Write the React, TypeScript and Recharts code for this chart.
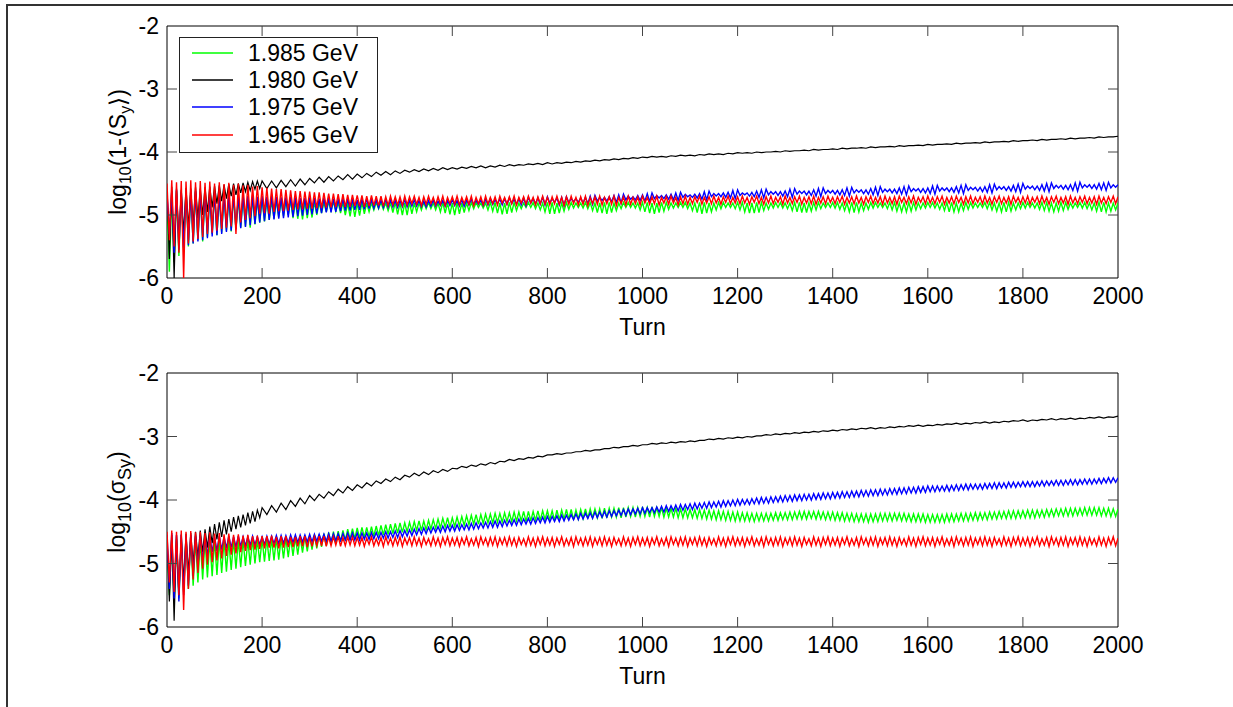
import React from 'react';
import { LineChart, Line, XAxis, YAxis, ReferenceArea } from 'recharts';

const FONT = 'Arial, "Liberation Sans", Helvetica, sans-serif';

// sample turns for the coloured traces (every 5 turns)
const TURNS_FINE = [
  0, 5, 10, 15, 20, 25, 30, 35, 40, 45, 50, 55, 60, 65, 70, 75, 80, 85, 90, 95,
  100, 105, 110, 115, 120, 125, 130, 135, 140, 145, 150, 155, 160, 165, 170, 175, 180, 185, 190, 195,
  200, 205, 210, 215, 220, 225, 230, 235, 240, 245, 250, 255, 260, 265, 270, 275, 280, 285, 290, 295,
  300, 305, 310, 315, 320, 325, 330, 335, 340, 345, 350, 355, 360, 365, 370, 375, 380, 385, 390, 395,
  400, 405, 410, 415, 420, 425, 430, 435, 440, 445, 450, 455, 460, 465, 470, 475, 480, 485, 490, 495,
  500, 505, 510, 515, 520, 525, 530, 535, 540, 545, 550, 555, 560, 565, 570, 575, 580, 585, 590, 595,
  600, 605, 610, 615, 620, 625, 630, 635, 640, 645, 650, 655, 660, 665, 670, 675, 680, 685, 690, 695,
  700, 705, 710, 715, 720, 725, 730, 735, 740, 745, 750, 755, 760, 765, 770, 775, 780, 785, 790, 795,
  800, 805, 810, 815, 820, 825, 830, 835, 840, 845, 850, 855, 860, 865, 870, 875, 880, 885, 890, 895,
  900, 905, 910, 915, 920, 925, 930, 935, 940, 945, 950, 955, 960, 965, 970, 975, 980, 985, 990, 995,
  1000, 1005, 1010, 1015, 1020, 1025, 1030, 1035, 1040, 1045, 1050, 1055, 1060, 1065, 1070, 1075, 1080, 1085, 1090, 1095,
  1100, 1105, 1110, 1115, 1120, 1125, 1130, 1135, 1140, 1145, 1150, 1155, 1160, 1165, 1170, 1175, 1180, 1185, 1190, 1195,
  1200, 1205, 1210, 1215, 1220, 1225, 1230, 1235, 1240, 1245, 1250, 1255, 1260, 1265, 1270, 1275, 1280, 1285, 1290, 1295,
  1300, 1305, 1310, 1315, 1320, 1325, 1330, 1335, 1340, 1345, 1350, 1355, 1360, 1365, 1370, 1375, 1380, 1385, 1390, 1395,
  1400, 1405, 1410, 1415, 1420, 1425, 1430, 1435, 1440, 1445, 1450, 1455, 1460, 1465, 1470, 1475, 1480, 1485, 1490, 1495,
  1500, 1505, 1510, 1515, 1520, 1525, 1530, 1535, 1540, 1545, 1550, 1555, 1560, 1565, 1570, 1575, 1580, 1585, 1590, 1595,
  1600, 1605, 1610, 1615, 1620, 1625, 1630, 1635, 1640, 1645, 1650, 1655, 1660, 1665, 1670, 1675, 1680, 1685, 1690, 1695,
  1700, 1705, 1710, 1715, 1720, 1725, 1730, 1735, 1740, 1745, 1750, 1755, 1760, 1765, 1770, 1775, 1780, 1785, 1790, 1795,
  1800, 1805, 1810, 1815, 1820, 1825, 1830, 1835, 1840, 1845, 1850, 1855, 1860, 1865, 1870, 1875, 1880, 1885, 1890, 1895,
  1900, 1905, 1910, 1915, 1920, 1925, 1930, 1935, 1940, 1945, 1950, 1955, 1960, 1965, 1970, 1975, 1980, 1985, 1990, 1995,
  2000,
];

// sample turns for the black traces (thin band, coarser after turn 200)
const TURNS_COARSE = [
  0, 5, 10, 15, 20, 25, 30, 35, 40, 45, 50, 55, 60, 65, 70, 75, 80, 85, 90, 95,
  100, 105, 110, 115, 120, 125, 130, 135, 140, 145, 150, 155, 160, 165, 170, 175, 180, 185, 190, 195,
  200, 210, 220, 230, 240, 250, 260, 270, 280, 290, 300,
  310, 320, 330, 340, 350, 360, 370, 380, 390, 400,
  410, 420, 430, 440, 450, 460, 470, 480, 490, 500,
  510, 520, 530, 540, 550, 560, 570, 580, 590, 600,
  610, 620, 630, 640, 650, 660, 670, 680, 690, 700,
  710, 720, 730, 740, 750, 760, 770, 780, 790, 800,
  810, 820, 830, 840, 850, 860, 870, 880, 890, 900,
  910, 920, 930, 940, 950, 960, 970, 980, 990, 1000,
  1010, 1020, 1030, 1040, 1050, 1060, 1070, 1080, 1090, 1100,
  1110, 1120, 1130, 1140, 1150, 1160, 1170, 1180, 1190, 1200,
  1210, 1220, 1230, 1240, 1250, 1260, 1270, 1280, 1290, 1300,
  1310, 1320, 1330, 1340, 1350, 1360, 1370, 1380, 1390, 1400,
  1410, 1420, 1430, 1440, 1450, 1460, 1470, 1480, 1490, 1500,
  1510, 1520, 1530, 1540, 1550, 1560, 1570, 1580, 1590, 1600,
  1610, 1620, 1630, 1640, 1650, 1660, 1670, 1680, 1690, 1700,
  1710, 1720, 1730, 1740, 1750, 1760, 1770, 1780, 1790, 1800,
  1810, 1820, 1830, 1840, 1850, 1860, 1870, 1880, 1890, 1900,
  1910, 1920, 1930, 1940, 1950, 1960, 1970, 1980, 1990, 2000,
];

const X_TICKS = [0, 200, 400, 600, 800, 1000, 1200, 1400, 1600, 1800, 2000];
const Y_TICKS = [-6, -5, -4, -3, -2];

// ---- upper panel: log10(1-<Sy>) ----
const TOP_GREEN = [
  -4.70, -5.90, -4.65, -5.75, -4.62, -5.65, -4.68, -5.55, -4.63, -5.50,
  -4.66, -5.45, -4.64, -5.40, -4.67, -5.42, -4.65, -5.35, -4.68, -5.30,
  -4.66, -5.32, -4.70, -5.28, -4.68, -5.25, -4.72, -5.26, -4.70, -5.22,
  -4.73, -5.20, -4.72, -5.18, -4.74, -5.20, -4.73, -5.15, -4.76, -5.12,
  -4.75,
  -5.10, -4.76, -5.08, -4.77, -5.06, -4.77, -5.04, -4.78, -5.02, -4.78,
  -5.00, -4.77, -5.05, -4.78, -5.06, -4.79, -5.07, -4.79, -5.05, -4.80,
  -5.04, -4.79, -5.00, -4.80, -4.97, -4.80, -4.95, -4.79, -4.93, -4.79,
  -4.94, -4.80, -4.97, -4.80, -5.00, -4.81, -5.02, -4.80, -5.03, -4.81,
  -5.01, -4.80, -4.98, -4.81, -4.95, -4.81, -4.92, -4.80, -4.90, -4.80,
  -4.91, -4.81, -4.93, -4.81, -4.96, -4.80, -4.99, -4.81, -5.00, -4.81,
  -5.00, -4.80, -4.98, -4.81, -4.95, -4.81, -4.92, -4.80, -4.90, -4.80,
  -4.90, -4.81, -4.92, -4.81, -4.95, -4.80, -4.97, -4.81, -4.99, -4.81,
  -5.00, -4.80, -4.98, -4.81, -4.96, -4.81, -4.93, -4.80, -4.90, -4.80,
  -4.88, -4.81, -4.89, -4.81, -4.92, -4.80, -4.94, -4.80, -4.97, -4.81,
  -4.99, -4.81, -4.98, -4.80, -4.96, -4.80, -4.93, -4.81, -4.90, -4.81,
  -4.88, -4.80, -4.88, -4.80, -4.90, -4.81, -4.92, -4.81, -4.95, -4.80,
  -4.98, -4.80, -4.98, -4.81, -4.97, -4.81, -4.94, -4.80, -4.91, -4.80,
  -4.89, -4.81, -4.88, -4.81, -4.89, -4.80, -4.90, -4.80, -4.93, -4.81,
  -4.96, -4.81, -4.97, -4.80, -4.98, -4.80, -4.96, -4.81, -4.93, -4.81,
  -4.90, -4.80, -4.88, -4.80, -4.88, -4.81, -4.89, -4.81, -4.92, -4.80,
  -4.95, -4.80, -4.97, -4.81, -4.98, -4.81, -4.96, -4.80, -4.94, -4.80,
  -4.91, -4.81, -4.89, -4.81, -4.88, -4.80, -4.88, -4.80, -4.90, -4.81,
  -4.93, -4.81, -4.96, -4.80, -4.98, -4.80, -4.97, -4.81, -4.95, -4.81,
  -4.92, -4.80, -4.90, -4.80, -4.88, -4.81, -4.88, -4.81, -4.90, -4.80,
  -4.92, -4.80, -4.95, -4.81, -4.97, -4.81, -4.97, -4.80, -4.96, -4.80,
  -4.93, -4.81, -4.91, -4.81, -4.89, -4.80, -4.88, -4.80, -4.89, -4.81,
  -4.90, -4.81, -4.93, -4.80, -4.95, -4.80, -4.96, -4.81, -4.96, -4.81,
  -4.94, -4.80, -4.92, -4.80, -4.90, -4.81, -4.88, -4.81, -4.88, -4.80,
  -4.89, -4.80, -4.91, -4.81, -4.93, -4.81, -4.95, -4.80, -4.96, -4.80,
  -4.95, -4.81, -4.93, -4.81, -4.91, -4.80, -4.89, -4.80, -4.88, -4.81,
  -4.88, -4.81, -4.90, -4.80, -4.92, -4.80, -4.94, -4.81, -4.95, -4.81,
  -4.95, -4.80, -4.94, -4.80, -4.92, -4.81, -4.90, -4.81, -4.89, -4.80,
  -4.88, -4.80, -4.89, -4.81, -4.91, -4.81, -4.93, -4.80, -4.95, -4.80,
  -4.95, -4.81, -4.95, -4.81, -4.93, -4.80, -4.91, -4.80, -4.89, -4.81,
  -4.88, -4.81, -4.88, -4.80, -4.90, -4.80, -4.92, -4.81, -4.94, -4.81,
  -4.95, -4.80, -4.95, -4.80, -4.94, -4.81, -4.92, -4.81, -4.90, -4.80,
  -4.89, -4.80, -4.88, -4.81, -4.89, -4.81, -4.91, -4.80, -4.93, -4.80,
  -4.94, -4.81, -4.95, -4.81, -4.94, -4.80, -4.93, -4.80, -4.91, -4.81,
  -4.89, -4.81, -4.88, -4.80, -4.89, -4.80, -4.90, -4.81, -4.92, -4.81,
  -4.94, -4.80, -4.95, -4.80, -4.95, -4.81, -4.94, -4.81, -4.92, -4.81,
];

const TOP_BLACK = [
  -4.60, -5.70, -4.55, -6.00, -4.58, -5.40, -4.60, -5.30, -4.57, -5.20,
  -4.58, -5.15, -4.56, -5.05, -4.58, -5.00, -4.56, -4.95, -4.55, -4.88,
  -4.54, -4.82, -4.53, -4.78, -4.52, -4.74, -4.51, -4.70, -4.50, -4.68,
  -4.50, -4.65, -4.49, -4.63, -4.48, -4.61, -4.47, -4.59, -4.46, -4.58,
  -4.46,
  -4.58, -4.46, -4.57, -4.45, -4.55, -4.44, -4.54, -4.43, -4.52, -4.42,
  -4.49, -4.40, -4.48, -4.39, -4.46, -4.38, -4.44, -4.36, -4.43, -4.35,
  -4.41, -4.34, -4.39, -4.32, -4.37, -4.31, -4.36, -4.30, -4.34, -4.29,
  -4.32, -4.28, -4.31, -4.27, -4.30, -4.26, -4.29, -4.25, -4.28, -4.25,
  -4.27, -4.24, -4.26, -4.23, -4.25, -4.22, -4.25, -4.22, -4.24, -4.21,
  -4.23, -4.20, -4.22, -4.20, -4.21, -4.19, -4.20, -4.18, -4.20, -4.17,
  -4.19, -4.17, -4.18, -4.16, -4.17, -4.15, -4.16, -4.14, -4.15, -4.13,
  -4.14, -4.12, -4.13, -4.11, -4.12, -4.10, -4.11, -4.09, -4.10, -4.08,
  -4.09, -4.07, -4.08, -4.07, -4.08, -4.06, -4.07, -4.05, -4.06, -4.05,
  -4.06, -4.04, -4.05, -4.03, -4.04, -4.03, -4.04, -4.02, -4.03, -4.01,
  -4.02, -4.01, -4.02, -4.00, -4.01, -4.00, -4.00, -3.99, -4.00, -3.98,
  -3.99, -3.98, -3.98, -3.97, -3.98, -3.96, -3.97, -3.96, -3.96, -3.95,
  -3.96, -3.94, -3.95, -3.94, -3.94, -3.93, -3.94, -3.92, -3.93, -3.92,
  -3.92, -3.91, -3.92, -3.90, -3.91, -3.90, -3.90, -3.89, -3.90, -3.88,
  -3.89, -3.88, -3.88, -3.87, -3.88, -3.86, -3.87, -3.86, -3.86, -3.85,
  -3.86, -3.84, -3.85, -3.84, -3.84, -3.83, -3.84, -3.82, -3.83, -3.82,
  -3.82, -3.81, -3.82, -3.80, -3.81, -3.80, -3.80, -3.79, -3.80, -3.78,
  -3.79, -3.78, -3.78, -3.77, -3.78, -3.76, -3.77, -3.76, -3.76, -3.75,
];

const TOP_BLUE = [
  -4.65, -5.30, -4.62, -5.60, -4.60, -5.55, -4.63, -5.52, -4.61, -5.48,
  -4.64, -5.45, -4.62, -5.42, -4.65, -5.40, -4.63, -5.37, -4.66, -5.34,
  -4.64, -5.32, -4.67, -5.30, -4.66, -5.27, -4.68, -5.25, -4.67, -5.23,
  -4.69, -5.21, -4.68, -5.19, -4.70, -5.16, -4.69, -5.14, -4.71, -5.12,
  -4.70,
  -5.10, -4.71, -5.08, -4.70, -5.07, -4.71, -5.06, -4.72, -5.05, -4.72,
  -5.04, -4.71, -5.03, -4.72, -5.02, -4.73, -5.01, -4.73, -5.00, -4.72,
  -4.99, -4.73, -4.98, -4.74, -4.97, -4.73, -4.96, -4.73, -4.96, -4.74,
  -4.95, -4.75, -4.94, -4.74, -4.93, -4.74, -4.93, -4.75, -4.92, -4.76,
  -4.92, -4.75, -4.91, -4.74, -4.90, -4.75, -4.89, -4.76, -4.89, -4.76,
  -4.88, -4.75, -4.88, -4.76, -4.87, -4.77, -4.88, -4.77, -4.87, -4.76,
  -4.87, -4.77, -4.86, -4.76, -4.86, -4.77, -4.87, -4.78, -4.87, -4.77,
  -4.86, -4.76, -4.86, -4.78, -4.85, -4.77, -4.86, -4.77, -4.85, -4.76,
  -4.85, -4.77, -4.86, -4.76, -4.86, -4.76, -4.84, -4.75, -4.84, -4.77,
  -4.83, -4.76, -4.85, -4.75, -4.84, -4.74, -4.83, -4.76, -4.82, -4.75,
  -4.84, -4.74, -4.83, -4.73, -4.82, -4.75, -4.83, -4.74, -4.84, -4.73,
  -4.85, -4.72, -4.81, -4.74, -4.82, -4.73, -4.83, -4.72, -4.84, -4.71,
  -4.81, -4.74, -4.80, -4.73, -4.84, -4.72, -4.85, -4.71, -4.80, -4.74,
  -4.79, -4.74, -4.80, -4.73, -4.81, -4.72, -4.82, -4.70, -4.83, -4.69,
  -4.78, -4.72, -4.77, -4.72, -4.78, -4.71, -4.79, -4.69, -4.80, -4.68,
  -4.81, -4.67, -4.76, -4.70, -4.75, -4.71, -4.76, -4.69, -4.77, -4.68,
  -4.78, -4.66, -4.79, -4.65, -4.74, -4.69, -4.73, -4.69, -4.74, -4.68,
  -4.75, -4.67, -4.76, -4.65, -4.77, -4.64, -4.72, -4.67, -4.71, -4.68,
  -4.72, -4.67, -4.73, -4.66, -4.75, -4.63, -4.76, -4.62, -4.71, -4.66,
  -4.70, -4.66, -4.71, -4.65, -4.72, -4.64, -4.73, -4.61, -4.74, -4.60,
  -4.69, -4.65, -4.68, -4.65, -4.70, -4.64, -4.71, -4.62, -4.72, -4.60,
  -4.73, -4.59, -4.68, -4.63, -4.67, -4.63, -4.69, -4.63, -4.70, -4.62,
  -4.71, -4.59, -4.72, -4.58, -4.67, -4.62, -4.66, -4.62, -4.68, -4.62,
  -4.69, -4.60, -4.70, -4.58, -4.71, -4.57, -4.66, -4.61, -4.65, -4.61,
  -4.67, -4.61, -4.68, -4.60, -4.69, -4.57, -4.70, -4.56, -4.65, -4.60,
  -4.64, -4.60, -4.66, -4.60, -4.67, -4.58, -4.68, -4.56, -4.69, -4.55,
  -4.64, -4.59, -4.63, -4.59, -4.65, -4.59, -4.66, -4.57, -4.67, -4.55,
  -4.68, -4.54, -4.63, -4.58, -4.62, -4.58, -4.64, -4.58, -4.65, -4.57,
  -4.66, -4.54, -4.67, -4.53, -4.62, -4.57, -4.61, -4.57, -4.63, -4.57,
  -4.64, -4.55, -4.65, -4.53, -4.66, -4.52, -4.61, -4.56, -4.60, -4.56,
  -4.62, -4.56, -4.63, -4.55, -4.64, -4.52, -4.65, -4.51, -4.60, -4.55,
  -4.59, -4.55, -4.61, -4.55, -4.62, -4.53, -4.63, -4.51, -4.64, -4.50,
  -4.59, -4.54, -4.58, -4.54, -4.60, -4.54, -4.61, -4.52, -4.62, -4.50,
  -4.63, -4.49, -4.58, -4.53, -4.57, -4.53, -4.59, -4.53, -4.60, -4.52,
  -4.61, -4.49, -4.62, -4.48, -4.57, -4.52, -4.56, -4.52, -4.58, -4.52,
  -4.59, -4.50, -4.60, -4.49, -4.61, -4.48, -4.57, -4.52, -4.56, -4.52,
];

const TOP_RED = [
  -4.50, -5.40, -4.45, -5.50, -4.48, -5.60, -4.46, -6.00, -4.47, -5.45,
  -4.45, -5.42, -4.48, -5.38, -4.46, -5.35, -4.49, -5.30, -4.47, -5.28,
  -4.50, -5.25, -4.48, -5.22, -4.51, -5.20, -4.49, -5.18, -4.52, -5.30,
  -4.50, -5.12, -4.53, -5.08, -4.52, -5.05, -4.55, -5.02, -4.54, -4.98,
  -4.56,
  -4.97, -4.57, -4.98, -4.58, -4.95, -4.59, -4.94, -4.59, -4.94, -4.60,
  -4.93, -4.61, -4.92, -4.62, -4.91, -4.62, -4.91, -4.63, -4.90, -4.63,
  -4.90, -4.64, -4.89, -4.64, -4.89, -4.65, -4.88, -4.66, -4.88, -4.66,
  -4.87, -4.67, -4.88, -4.67, -4.87, -4.68, -4.87, -4.68, -4.86, -4.69,
  -4.86, -4.69, -4.87, -4.70, -4.86, -4.69, -4.85, -4.70, -4.85, -4.70,
  -4.86, -4.71, -4.85, -4.70, -4.84, -4.71, -4.84, -4.71, -4.85, -4.70,
  -4.84, -4.71, -4.82, -4.70, -4.83, -4.72, -4.85, -4.71, -4.83, -4.70,
  -4.82, -4.72, -4.84, -4.71, -4.83, -4.70, -4.85, -4.72, -4.82, -4.71,
  -4.83, -4.70, -4.84, -4.72, -4.82, -4.71, -4.83, -4.70, -4.85, -4.72,
  -4.82, -4.71, -4.84, -4.70, -4.83, -4.72, -4.82, -4.71, -4.84, -4.70,
  -4.81, -4.72, -4.83, -4.71, -4.82, -4.70, -4.84, -4.72, -4.81, -4.71,
  -4.83, -4.70, -4.81, -4.72, -4.84, -4.71, -4.82, -4.70, -4.83, -4.72,
  -4.84, -4.71, -4.82, -4.70, -4.83, -4.72, -4.85, -4.71, -4.83, -4.70,
  -4.82, -4.72, -4.84, -4.71, -4.83, -4.70, -4.85, -4.72, -4.82, -4.71,
  -4.83, -4.70, -4.84, -4.72, -4.82, -4.71, -4.83, -4.70, -4.85, -4.72,
  -4.82, -4.71, -4.84, -4.70, -4.83, -4.72, -4.82, -4.71, -4.84, -4.70,
  -4.81, -4.72, -4.83, -4.71, -4.82, -4.70, -4.84, -4.72, -4.81, -4.71,
  -4.83, -4.70, -4.81, -4.72, -4.84, -4.71, -4.82, -4.70, -4.83, -4.72,
  -4.82, -4.71, -4.80, -4.70, -4.83, -4.72, -4.81, -4.71, -4.82, -4.70,
  -4.81, -4.72, -4.83, -4.71, -4.80, -4.70, -4.82, -4.72, -4.81, -4.71,
  -4.82, -4.70, -4.81, -4.72, -4.83, -4.71, -4.80, -4.70, -4.82, -4.72,
  -4.83, -4.71, -4.81, -4.70, -4.82, -4.72, -4.80, -4.71, -4.83, -4.70,
  -4.81, -4.72, -4.82, -4.71, -4.80, -4.70, -4.83, -4.72, -4.81, -4.71,
  -4.82, -4.70, -4.83, -4.72, -4.81, -4.71, -4.82, -4.70, -4.80, -4.72,
  -4.82, -4.71, -4.80, -4.70, -4.83, -4.72, -4.81, -4.71, -4.82, -4.70,
  -4.81, -4.72, -4.83, -4.71, -4.80, -4.70, -4.82, -4.72, -4.81, -4.71,
  -4.83, -4.70, -4.81, -4.72, -4.82, -4.71, -4.83, -4.70, -4.80, -4.72,
  -4.82, -4.71, -4.81, -4.70, -4.83, -4.72, -4.80, -4.71, -4.82, -4.70,
  -4.81, -4.72, -4.82, -4.71, -4.80, -4.70, -4.83, -4.72, -4.81, -4.71,
  -4.82, -4.70, -4.80, -4.72, -4.83, -4.71, -4.81, -4.70, -4.82, -4.72,
  -4.80, -4.71, -4.82, -4.70, -4.81, -4.72, -4.83, -4.71, -4.80, -4.70,
  -4.82, -4.72, -4.81, -4.71, -4.83, -4.70, -4.80, -4.72, -4.82, -4.71,
  -4.81, -4.70, -4.83, -4.72, -4.80, -4.71, -4.82, -4.70, -4.81, -4.72,
  -4.83, -4.71, -4.80, -4.70, -4.82, -4.72, -4.81, -4.71, -4.83, -4.70,
  -4.81, -4.72, -4.82, -4.71, -4.80, -4.70, -4.82, -4.72, -4.81, -4.71,
  -4.83, -4.70, -4.81, -4.72, -4.82, -4.71, -4.80, -4.70, -4.82, -4.71,
];

// ---- lower panel: log10(sigma_Sy) ----
const BOT_GREEN = [
  -4.65, -5.50, -4.60, -5.60, -4.62, -5.55, -4.63, -5.45, -4.60, -5.40,
  -4.62, -5.35, -4.61, -5.30, -4.63, -5.25, -4.62, -5.22, -4.64, -5.20,
  -4.62, -5.18, -4.63, -5.15, -4.62, -5.13, -4.64, -5.10, -4.62, -5.08,
  -4.63, -5.06, -4.62, -5.04, -4.63, -5.02, -4.61, -5.00, -4.62, -4.98,
  -4.61,
  -4.97, -4.61, -4.96, -4.61, -4.95, -4.60, -4.94, -4.60, -4.92, -4.60,
  -4.90, -4.59, -4.88, -4.59, -4.86, -4.58, -4.83, -4.57, -4.81, -4.56,
  -4.78, -4.55, -4.76, -4.54, -4.74, -4.53, -4.72, -4.51, -4.70, -4.50,
  -4.68, -4.49, -4.66, -4.48, -4.64, -4.46, -4.62, -4.45, -4.61, -4.44,
  -4.60, -4.43, -4.59, -4.43, -4.58, -4.42, -4.57, -4.41, -4.56, -4.40,
  -4.55, -4.39, -4.54, -4.38, -4.53, -4.37, -4.52, -4.36, -4.51, -4.36,
  -4.50, -4.35, -4.49, -4.34, -4.48, -4.33, -4.48, -4.33, -4.47, -4.32,
  -4.46, -4.31, -4.45, -4.30, -4.44, -4.29, -4.43, -4.28, -4.43, -4.28,
  -4.42, -4.27, -4.41, -4.26, -4.40, -4.25, -4.39, -4.24, -4.38, -4.23,
  -4.38, -4.23, -4.37, -4.22, -4.36, -4.22, -4.36, -4.21, -4.35, -4.21,
  -4.35, -4.20, -4.34, -4.20, -4.34, -4.19, -4.33, -4.19, -4.33, -4.18,
  -4.34, -4.18, -4.33, -4.18, -4.32, -4.17, -4.32, -4.17, -4.31, -4.17,
  -4.31, -4.17, -4.32, -4.16, -4.31, -4.16, -4.30, -4.15, -4.30, -4.15,
  -4.31, -4.16, -4.30, -4.15, -4.29, -4.14, -4.29, -4.14, -4.28, -4.14,
  -4.28, -4.14, -4.29, -4.13, -4.28, -4.13, -4.27, -4.13, -4.27, -4.12,
  -4.28, -4.12, -4.27, -4.12, -4.26, -4.12, -4.27, -4.12, -4.26, -4.11,
  -4.26, -4.12, -4.27, -4.11, -4.26, -4.12, -4.26, -4.12, -4.27, -4.13,
  -4.27, -4.13, -4.27, -4.13, -4.28, -4.14, -4.28, -4.14, -4.28, -4.15,
  -4.28, -4.15, -4.29, -4.15, -4.29, -4.16, -4.30, -4.16, -4.30, -4.17,
  -4.31, -4.17, -4.31, -4.18, -4.32, -4.18, -4.32, -4.19, -4.33, -4.19,
  -4.33, -4.20, -4.33, -4.20, -4.33, -4.21, -4.34, -4.21, -4.33, -4.21,
  -4.33, -4.21, -4.33, -4.21, -4.32, -4.20, -4.32, -4.20, -4.31, -4.20,
  -4.31, -4.19, -4.31, -4.19, -4.30, -4.18, -4.30, -4.18, -4.30, -4.18,
  -4.29, -4.18, -4.30, -4.18, -4.30, -4.19, -4.31, -4.19, -4.31, -4.19,
  -4.32, -4.20, -4.32, -4.20, -4.33, -4.21, -4.33, -4.21, -4.34, -4.22,
  -4.34, -4.22, -4.34, -4.22, -4.35, -4.22, -4.34, -4.22, -4.34, -4.21,
  -4.33, -4.21, -4.33, -4.21, -4.33, -4.21, -4.32, -4.21, -4.33, -4.21,
  -4.33, -4.22, -4.34, -4.22, -4.34, -4.22, -4.34, -4.22, -4.35, -4.23,
  -4.35, -4.23, -4.35, -4.23, -4.35, -4.23, -4.35, -4.22, -4.34, -4.22,
  -4.34, -4.22, -4.33, -4.21, -4.33, -4.21, -4.33, -4.21, -4.32, -4.20,
  -4.32, -4.20, -4.31, -4.20, -4.31, -4.19, -4.30, -4.19, -4.30, -4.18,
  -4.29, -4.18, -4.29, -4.17, -4.29, -4.17, -4.29, -4.17, -4.28, -4.17,
  -4.28, -4.16, -4.28, -4.16, -4.28, -4.16, -4.27, -4.16, -4.27, -4.15,
  -4.26, -4.15, -4.26, -4.14, -4.25, -4.14, -4.25, -4.13, -4.25, -4.13,
  -4.25, -4.13, -4.24, -4.13, -4.24, -4.12, -4.24, -4.12, -4.24, -4.12,
  -4.24, -4.12, -4.25, -4.13, -4.25, -4.13, -4.26, -4.14, -4.26, -4.14,
];

const BOT_BLACK = [
  -4.60, -5.60, -4.55, -5.90, -4.56, -5.50, -4.55, -5.30, -4.53, -5.15,
  -4.52, -5.00, -4.50, -4.90, -4.48, -4.82, -4.46, -4.75, -4.42, -4.68,
  -4.38, -4.62, -4.35, -4.58, -4.32, -4.54, -4.30, -4.50, -4.27, -4.46,
  -4.25, -4.43, -4.23, -4.40, -4.20, -4.37, -4.18, -4.34, -4.16, -4.28,
  -4.12,
  -4.23, -4.09, -4.19, -4.05, -4.15, -4.01, -4.10, -3.97, -4.06, -3.93,
  -4.01, -3.91, -3.97, -3.87, -3.93, -3.83, -3.89, -3.79, -3.85, -3.76,
  -3.81, -3.73, -3.78, -3.70, -3.74, -3.67, -3.71, -3.64, -3.68, -3.61,
  -3.64, -3.58, -3.62, -3.56, -3.60, -3.54, -3.57, -3.52, -3.55, -3.50,
  -3.51, -3.47, -3.49, -3.45, -3.47, -3.43, -3.45, -3.41, -3.43, -3.39,
  -3.40, -3.36, -3.38, -3.35, -3.36, -3.33, -3.34, -3.31, -3.32, -3.29,
  -3.29, -3.27, -3.28, -3.26, -3.26, -3.24, -3.24, -3.22, -3.23, -3.21,
  -3.21, -3.19, -3.19, -3.17, -3.18, -3.16, -3.16, -3.14, -3.15, -3.13,
  -3.13, -3.11, -3.12, -3.10, -3.11, -3.09, -3.10, -3.08, -3.09, -3.07,
  -3.08, -3.06, -3.06, -3.04, -3.05, -3.03, -3.04, -3.02, -3.03, -3.01,
  -3.02, -3.00, -3.01, -2.99, -2.99, -2.97, -2.98, -2.96, -2.97, -2.95,
  -2.96, -2.94, -2.95, -2.93, -2.94, -2.92, -2.93, -2.91, -2.92, -2.90,
  -2.91, -2.89, -2.90, -2.88, -2.89, -2.87, -2.88, -2.86, -2.88, -2.86,
  -2.87, -2.85, -2.86, -2.84, -2.85, -2.83, -2.84, -2.82, -2.84, -2.82,
  -2.83, -2.81, -2.82, -2.80, -2.81, -2.79, -2.81, -2.79, -2.80, -2.78,
  -2.79, -2.77, -2.79, -2.77, -2.78, -2.76, -2.77, -2.75, -2.76, -2.74,
  -2.76, -2.74, -2.75, -2.73, -2.74, -2.72, -2.74, -2.72, -2.73, -2.71,
  -2.73, -2.71, -2.72, -2.70, -2.71, -2.69, -2.71, -2.69, -2.70, -2.68,
];

const BOT_BLUE = [
  -4.55, -5.40, -4.52, -5.55, -4.55, -5.60, -4.54, -5.50, -4.56, -5.35,
  -4.55, -5.20, -4.57, -5.05, -4.56, -4.95, -4.58, -4.88, -4.57, -4.82,
  -4.58, -4.80, -4.57, -4.78, -4.58, -4.76, -4.57, -4.75, -4.58, -4.74,
  -4.57, -4.73, -4.58, -4.72, -4.58, -4.71, -4.57, -4.71, -4.58, -4.70,
  -4.58,
  -4.70, -4.57, -4.70, -4.57, -4.69, -4.56, -4.69, -4.56, -4.68, -4.56,
  -4.68, -4.55, -4.67, -4.55, -4.67, -4.55, -4.66, -4.55, -4.66, -4.54,
  -4.66, -4.54, -4.65, -4.54, -4.65, -4.54, -4.65, -4.53, -4.65, -4.53,
  -4.64, -4.53, -4.64, -4.53, -4.63, -4.52, -4.63, -4.52, -4.63, -4.52,
  -4.63, -4.52, -4.62, -4.52, -4.62, -4.51, -4.61, -4.51, -4.61, -4.51,
  -4.60, -4.50, -4.60, -4.50, -4.59, -4.49, -4.59, -4.48, -4.58, -4.48,
  -4.57, -4.47, -4.56, -4.46, -4.55, -4.45, -4.54, -4.44, -4.53, -4.43,
  -4.52, -4.43, -4.51, -4.42, -4.51, -4.41, -4.50, -4.40, -4.49, -4.40,
  -4.49, -4.39, -4.48, -4.39, -4.47, -4.38, -4.47, -4.37, -4.46, -4.36,
  -4.45, -4.36, -4.44, -4.35, -4.44, -4.34, -4.43, -4.33, -4.43, -4.33,
  -4.42, -4.32, -4.41, -4.32, -4.40, -4.31, -4.40, -4.30, -4.39, -4.30,
  -4.38, -4.29, -4.38, -4.28, -4.37, -4.28, -4.36, -4.27, -4.36, -4.26,
  -4.35, -4.26, -4.34, -4.25, -4.34, -4.24, -4.33, -4.24, -4.32, -4.23,
  -4.31, -4.22, -4.31, -4.21, -4.30, -4.21, -4.29, -4.20, -4.29, -4.19,
  -4.28, -4.19, -4.27, -4.18, -4.27, -4.17, -4.26, -4.17, -4.25, -4.16,
  -4.24, -4.15, -4.24, -4.14, -4.23, -4.14, -4.22, -4.13, -4.22, -4.12,
  -4.21, -4.12, -4.20, -4.12, -4.20, -4.11, -4.19, -4.10, -4.19, -4.09,
  -4.18, -4.09, -4.17, -4.08, -4.17, -4.07, -4.16, -4.07, -4.15, -4.06,
  -4.15, -4.05, -4.14, -4.05, -4.13, -4.04, -4.13, -4.03, -4.12, -4.03,
  -4.11, -4.02, -4.11, -4.01, -4.10, -4.01, -4.09, -4.00, -4.09, -3.99,
  -4.08, -3.99, -4.07, -3.99, -4.07, -3.98, -4.06, -3.97, -4.06, -3.96,
  -4.05, -3.96, -4.05, -3.95, -4.04, -3.95, -4.03, -3.94, -4.03, -3.93,
  -4.02, -3.93, -4.02, -3.92, -4.01, -3.92, -4.01, -3.91, -4.00, -3.91,
  -4.00, -3.90, -3.99, -3.90, -3.99, -3.89, -3.98, -3.89, -3.98, -3.88,
  -3.97, -3.88, -3.97, -3.87, -3.96, -3.87, -3.96, -3.86, -3.95, -3.86,
  -3.95, -3.85, -3.94, -3.85, -3.94, -3.84, -3.93, -3.84, -3.93, -3.83,
  -3.92, -3.83, -3.92, -3.82, -3.91, -3.82, -3.91, -3.81, -3.90, -3.81,
  -3.90, -3.80, -3.89, -3.80, -3.89, -3.79, -3.88, -3.79, -3.88, -3.78,
  -3.87, -3.78, -3.87, -3.78, -3.86, -3.78, -3.86, -3.77, -3.86, -3.77,
  -3.85, -3.76, -3.85, -3.76, -3.84, -3.75, -3.84, -3.75, -3.83, -3.75,
  -3.83, -3.75, -3.83, -3.74, -3.82, -3.74, -3.82, -3.73, -3.82, -3.73,
  -3.81, -3.73, -3.81, -3.72, -3.80, -3.72, -3.80, -3.72, -3.79, -3.71,
  -3.79, -3.71, -3.79, -3.71, -3.79, -3.71, -3.78, -3.70, -3.78, -3.70,
  -3.77, -3.70, -3.77, -3.69, -3.77, -3.69, -3.77, -3.69, -3.76, -3.68,
  -3.76, -3.68, -3.76, -3.68, -3.75, -3.67, -3.75, -3.67, -3.75, -3.67,
  -3.74, -3.66, -3.74, -3.66, -3.73, -3.65, -3.73, -3.65, -3.72, -3.65,
];

const BOT_RED = [
  -4.50, -5.30, -4.48, -5.45, -4.50, -5.50, -4.48, -5.73, -4.50, -5.40,
  -4.49, -5.25, -4.51, -5.15, -4.50, -5.08, -4.52, -5.02, -4.51, -4.98,
  -4.53, -4.95, -4.52, -4.92, -4.54, -4.88, -4.53, -4.86, -4.55, -4.84,
  -4.54, -4.82, -4.56, -4.80, -4.55, -4.79, -4.57, -4.78, -4.56, -4.77,
  -4.57,
  -4.76, -4.57, -4.75, -4.56, -4.75, -4.58, -4.76, -4.57, -4.75, -4.57,
  -4.74, -4.58, -4.74, -4.58, -4.73, -4.57, -4.73, -4.57, -4.74, -4.58,
  -4.73, -4.58, -4.72, -4.57, -4.72, -4.57, -4.73, -4.58, -4.72, -4.58,
  -4.71, -4.57, -4.73, -4.59, -4.72, -4.58, -4.71, -4.58, -4.72, -4.59,
  -4.71, -4.59, -4.73, -4.60, -4.70, -4.58, -4.72, -4.61, -4.71, -4.59,
  -4.73, -4.58, -4.70, -4.60, -4.72, -4.59, -4.71, -4.58, -4.73, -4.60,
  -4.70, -4.59, -4.72, -4.58, -4.71, -4.60, -4.73, -4.59, -4.70, -4.61,
  -4.72, -4.58, -4.71, -4.60, -4.73, -4.59, -4.70, -4.58, -4.72, -4.60,
  -4.71, -4.59, -4.73, -4.60, -4.70, -4.58, -4.72, -4.61, -4.71, -4.59,
  -4.73, -4.58, -4.70, -4.60, -4.72, -4.59, -4.71, -4.58, -4.73, -4.60,
  -4.70, -4.59, -4.72, -4.58, -4.71, -4.60, -4.73, -4.59, -4.70, -4.61,
  -4.72, -4.58, -4.71, -4.60, -4.73, -4.59, -4.70, -4.58, -4.72, -4.60,
  -4.71, -4.59, -4.73, -4.60, -4.70, -4.58, -4.72, -4.61, -4.71, -4.59,
  -4.73, -4.58, -4.70, -4.60, -4.72, -4.59, -4.71, -4.58, -4.73, -4.60,
  -4.70, -4.59, -4.72, -4.58, -4.71, -4.60, -4.73, -4.59, -4.70, -4.61,
  -4.72, -4.58, -4.71, -4.60, -4.73, -4.59, -4.70, -4.58, -4.72, -4.60,
  -4.71, -4.59, -4.73, -4.60, -4.70, -4.58, -4.72, -4.61, -4.71, -4.59,
  -4.73, -4.58, -4.70, -4.60, -4.72, -4.59, -4.71, -4.58, -4.73, -4.60,
  -4.70, -4.59, -4.72, -4.58, -4.71, -4.60, -4.73, -4.59, -4.70, -4.61,
  -4.72, -4.58, -4.71, -4.60, -4.73, -4.59, -4.70, -4.58, -4.72, -4.60,
  -4.71, -4.59, -4.73, -4.60, -4.70, -4.58, -4.72, -4.61, -4.71, -4.59,
  -4.73, -4.58, -4.70, -4.60, -4.72, -4.59, -4.71, -4.58, -4.73, -4.60,
  -4.70, -4.59, -4.72, -4.58, -4.71, -4.60, -4.73, -4.59, -4.70, -4.61,
  -4.72, -4.58, -4.71, -4.60, -4.73, -4.59, -4.70, -4.58, -4.72, -4.60,
  -4.71, -4.59, -4.73, -4.60, -4.70, -4.58, -4.72, -4.61, -4.71, -4.59,
  -4.73, -4.58, -4.70, -4.60, -4.72, -4.59, -4.71, -4.58, -4.73, -4.60,
  -4.70, -4.59, -4.72, -4.58, -4.71, -4.60, -4.73, -4.59, -4.70, -4.61,
  -4.72, -4.58, -4.71, -4.60, -4.73, -4.59, -4.70, -4.58, -4.72, -4.60,
  -4.71, -4.59, -4.73, -4.60, -4.70, -4.58, -4.72, -4.61, -4.71, -4.59,
  -4.73, -4.58, -4.70, -4.60, -4.72, -4.59, -4.71, -4.58, -4.73, -4.60,
  -4.70, -4.59, -4.72, -4.58, -4.71, -4.60, -4.73, -4.59, -4.70, -4.61,
  -4.72, -4.58, -4.71, -4.60, -4.73, -4.59, -4.70, -4.58, -4.72, -4.60,
  -4.71, -4.59, -4.73, -4.60, -4.70, -4.58, -4.72, -4.61, -4.71, -4.59,
  -4.73, -4.58, -4.70, -4.60, -4.72, -4.59, -4.71, -4.58, -4.73, -4.60,
  -4.70, -4.59, -4.72, -4.58, -4.71, -4.60, -4.73, -4.59, -4.70, -4.61,
  -4.72, -4.58, -4.71, -4.60, -4.73, -4.59, -4.70, -4.58, -4.72, -4.60,
];

const SERIES = [
  { key: 'g', name: '1.985 GeV', color: '#00ff00', width: 1.4 },
  { key: 'k', name: '1.980 GeV', color: '#000000', width: 1.2 },
  { key: 'b', name: '1.975 GeV', color: '#0000ff', width: 1.4 },
  { key: 'r', name: '1.965 GeV', color: '#ff0000', width: 1.4 },
];

const zip = (turns: number[], vals: number[]) => turns.map((turn, i) => ({ turn, v: vals[i] }));

const topSeries = [
  zip(TURNS_FINE, TOP_GREEN),
  zip(TURNS_COARSE, TOP_BLACK),
  zip(TURNS_FINE, TOP_BLUE),
  zip(TURNS_FINE, TOP_RED),
];
const bottomSeries = [
  zip(TURNS_FINE, BOT_GREEN),
  zip(TURNS_COARSE, BOT_BLACK),
  zip(TURNS_FINE, BOT_BLUE),
  zip(TURNS_FINE, BOT_RED),
];

const AXIS_W = 60;
const AXIS_H = 60;
const PLOT_LEFT = 167;
const PLOT_RIGHT = 1118;
const TICK_COLOR = '#444';

function makeXTick(top: number, bottom: number) {
  return (p: any) => {
    const v = p.payload.value;
    const edge = v === X_TICKS[0] || v === X_TICKS[X_TICKS.length - 1];
    return (
      <g>
        {!edge && <line x1={p.x} x2={p.x} y1={bottom} y2={bottom - 10} stroke={TICK_COLOR} />}
        {!edge && <line x1={p.x} x2={p.x} y1={top} y2={top + 10} stroke={TICK_COLOR} />}
        <text x={p.x} y={bottom + 10} dy="0.71em" textAnchor="middle" fontSize={23} fill="#000" fontFamily={FONT}>
          {v}
        </text>
      </g>
    );
  };
}

function makeYTick() {
  return (p: any) => {
    const v = p.payload.value;
    const edge = v === Y_TICKS[0] || v === Y_TICKS[Y_TICKS.length - 1];
    return (
      <g>
        {!edge && <line x1={PLOT_LEFT} x2={PLOT_LEFT + 10} y1={p.y} y2={p.y} stroke={TICK_COLOR} />}
        {!edge && <line x1={PLOT_RIGHT} x2={PLOT_RIGHT - 10} y1={p.y} y2={p.y} stroke={TICK_COLOR} />}
        <text x={PLOT_LEFT - 8} y={p.y} dy="0.355em" textAnchor="end" fontSize={23} fill="#000" fontFamily={FONT}>
          {v}
        </text>
      </g>
    );
  };
}

function Panel({ lines, height, plotTop, plotHeight }: { lines: any[][]; height: number; plotTop: number; plotHeight: number }) {
  const plotBottom = plotTop + plotHeight;
  return (
    <LineChart
      width={1233}
      height={height}
      margin={{ top: plotTop, right: 1233 - PLOT_RIGHT, left: PLOT_LEFT - AXIS_W, bottom: height - plotBottom - AXIS_H }}
    >
      <XAxis
        dataKey="turn" type="number" domain={[0, 2000]} allowDataOverflow ticks={X_TICKS} interval={0}
        height={AXIS_H} tickSize={0} tickMargin={10} axisLine={false} tickLine={false}
        tick={makeXTick(plotTop, plotBottom)}
        label={{ value: 'Turn', position: 'insideBottom', offset: 3, fill: '#000', fontSize: 23, fontFamily: FONT }}
      />
      <YAxis
        type="number" domain={[-6, -2]} allowDataOverflow ticks={Y_TICKS} interval={0}
        width={AXIS_W} tickSize={0} tickMargin={8} axisLine={false} tickLine={false}
        tick={makeYTick()}
      />
      <ReferenceArea x1={0} x2={2000} y1={-6} y2={-2} fill="none" fillOpacity={0} stroke="#000" strokeWidth={1} ifOverflow="visible" />
      {SERIES.map((s, i) => (
        <Line
          key={s.key} data={lines[i]} type="linear" dataKey="v" name={s.name} stroke={s.color}
          strokeWidth={s.width} dot={false} activeDot={false} isAnimationActive={false}
        />
      ))}
    </LineChart>
  );
}

const subStyle: React.CSSProperties = { fontSize: 16, verticalAlign: -5, lineHeight: 0 };
const subStyleBig: React.CSSProperties = { fontSize: 18, verticalAlign: -6, lineHeight: 0 };

function YLabel({ cx, cy, children }: { cx: number; cy: number; children: React.ReactNode }) {
  return (
    <div
      style={{
        position: 'absolute', left: cx, top: cy, transform: 'translate(-50%, -50%) rotate(-90deg)',
        whiteSpace: 'nowrap', fontSize: 23, lineHeight: '23px', color: '#000', fontFamily: FONT,
      }}
    >
      {children}
    </div>
  );
}

const LEGEND_ROWS = [53, 80, 107, 135];

export default function App() {
  return (
    <div
      style={{
        position: 'absolute', left: 0, top: 0, width: 1233, height: 707, overflow: 'hidden',
        background: '#fff', fontFamily: FONT,
      }}
    >
      {/* figure frame */}
      <div
        style={{
          position: 'absolute', left: 6, top: 4, width: 1240, height: 720,
          borderTop: '2px solid #333', borderLeft: '2px solid #333',
        }}
      />
      <div style={{ position: 'absolute', left: 0, top: 0 }}>
        <Panel lines={topSeries} height={350} plotTop={26} plotHeight={252} />
      </div>
      <div style={{ position: 'absolute', left: 0, top: 347 }}>
        <Panel lines={bottomSeries} height={360} plotTop={26} plotHeight={254} />
      </div>

      <YLabel cx={118} cy={152}>
        log<sub style={subStyle}>10</sub>(1-⟨S<sub style={subStyle}>y</sub>⟩)
      </YLabel>
      <YLabel cx={117} cy={502}>
        log<sub style={subStyleBig}>10</sub>(σ<sub style={subStyleBig}>Sy</sub>)
      </YLabel>

      {/* legend */}
      <div
        style={{
          position: 'absolute', left: 179, top: 37, width: 197, height: 114,
          border: '1px solid #222', background: '#fff',
        }}
      />
      {SERIES.map((s, i) => (
        <React.Fragment key={s.key}>
          <div
            style={{
              position: 'absolute', left: 192, top: LEGEND_ROWS[i] - 1, width: 41, height: 2,
              background: s.color, opacity: 0.75,
            }}
          />
          <div
            style={{
              position: 'absolute', left: 248, top: LEGEND_ROWS[i] - 13, height: 26, lineHeight: '26px',
              fontSize: 23, color: '#000', whiteSpace: 'nowrap',
            }}
          >
            {s.name}
          </div>
        </React.Fragment>
      ))}
    </div>
  );
}
